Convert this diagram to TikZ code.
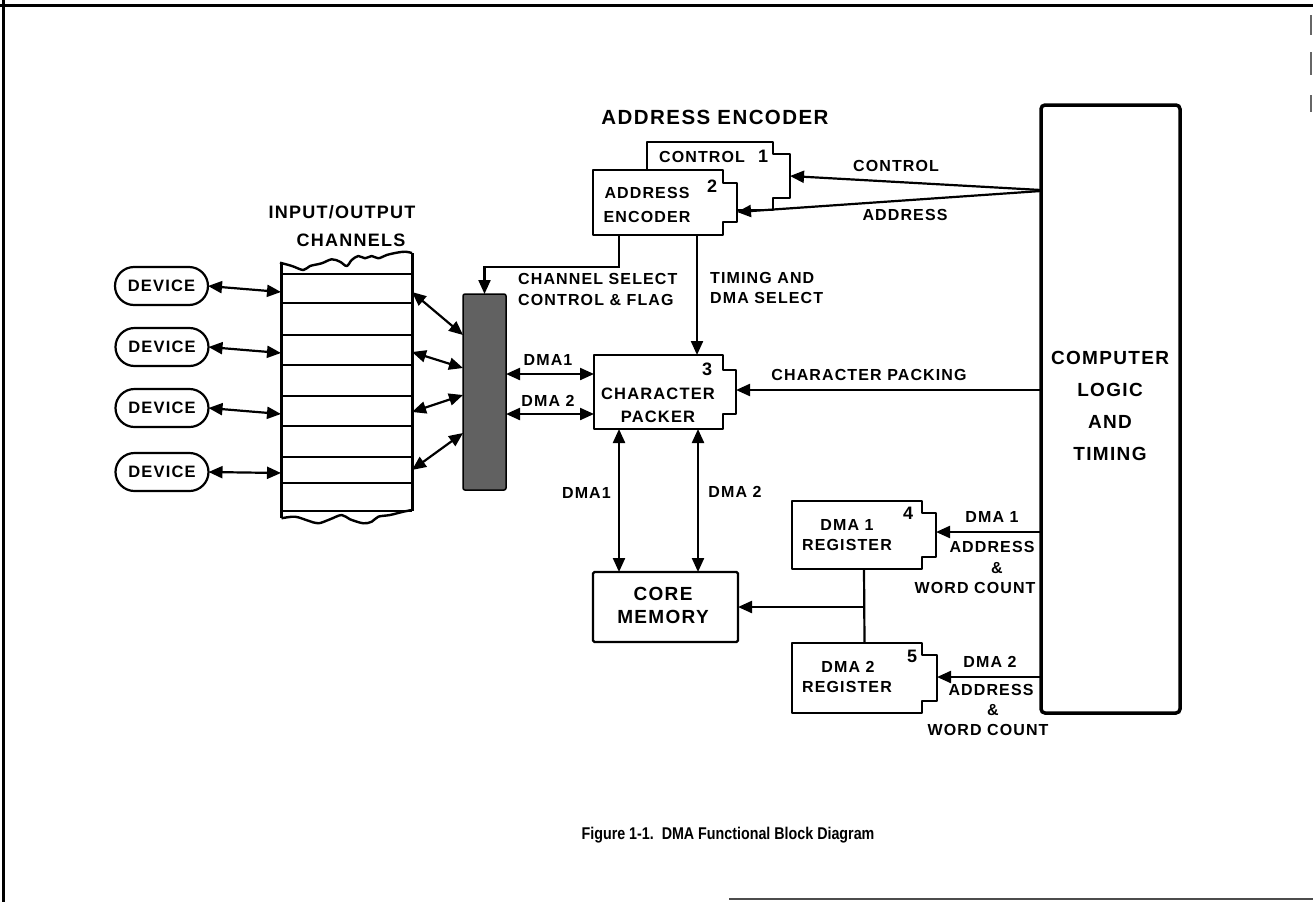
\documentclass[tikz,border=0pt]{standalone}
\usepackage{fontspec}
\setmainfont{Liberation Sans}
\newfontfamily\lblfont{Liberation Sans}[LetterSpace=7]
\newfontfamily\capfont{Liberation Sans}[FakeStretch=0.84]
\usetikzlibrary{arrows.meta}
\newcommand\notchedbox[3]{%
  \draw[boxline] (#1.north west) -- ([xshift=-#2pt]#1.north east)
    -- ([xshift=-#2pt,yshift=-#3pt]#1.north east) -- ([yshift=-#3pt]#1.north east)
    -- ([yshift=#3pt]#1.south east) -- ([xshift=-#2pt,yshift=#3pt]#1.south east)
    -- ([xshift=-#2pt]#1.south east) -- (#1.south west) -- cycle;}
\begin{document}
\begin{tikzpicture}[x=1pt,y=-1pt,
  lbl/.style={font=\lblfont\bfseries\fontsize{16}{18}\selectfont, inner sep=0pt},
  big/.style={font=\lblfont\bfseries\fontsize{19}{21}\selectfont, inner sep=0pt},
  num/.style={font=\bfseries\fontsize{18}{20}\selectfont, inner sep=0pt},
  wire/.style={line width=2.2pt},
  arr/.style={wire, -{Triangle[length=14pt,width=12pt]}},
  dbl/.style={wire, {Triangle[length=14pt,width=12pt]}-{Triangle[length=14pt,width=12pt]}},
  boxline/.style={line width=2.2pt, fill=white, line join=round},
  anchorbox/.style={draw=none, inner sep=0pt, outer sep=0pt},
  plainbox/.style={draw, line width=2.2pt, fill=white, inner sep=0pt, outer sep=0pt, rounded corners=1.5pt},
  devbox/.style={draw, line width=2.2pt, rounded corners=19pt, minimum width=93pt, minimum height=38pt, inner sep=0pt, outer sep=0pt,
     font=\lblfont\bfseries\fontsize{16.5}{18}\selectfont},
  chline/.style={line width=1.3pt},
  chside/.style={line width=3pt}
]
\useasboundingbox (0,0) rectangle (1313,902);
% frame
\draw[line width=3pt] (0,5) -- (1313,5);
\draw[line width=3pt] (3,0) -- (3,902);
\draw[line width=2.5pt, black!70] (729,899) -- (1313,899);
\draw[line width=1.5pt, black!60] (1311,15) -- (1311,35) (1311,52) -- (1311,75) (1311,95) -- (1311,112);

% ---- boxes (anchors)
\node[anchorbox, minimum width=143pt, minimum height=68pt] (ctl) at (718.5,176) {};
\node[anchorbox, minimum width=144pt, minimum height=65pt] (aenc) at (665,202.5) {};
\node[anchorbox, minimum width=142pt, minimum height=74pt] (pack) at (665,392) {};
\node[anchorbox, minimum width=144pt, minimum height=68pt] (reg1) at (864,535) {};
\node[anchorbox, minimum width=145pt, minimum height=70pt] (reg2) at (864.5,678) {};
\notchedbox{ctl}{17}{12}
\notchedbox{aenc}{14}{13}
\notchedbox{pack}{13}{15}
\notchedbox{reg1}{14}{12}
\notchedbox{reg2}{15}{12}
\node[plainbox, minimum width=145pt, minimum height=70pt] (core) at (665.5,607) {};
\node[draw, line width=3.5pt, rounded corners=4pt, inner sep=0pt, outer sep=0pt,
      minimum width=139pt, minimum height=608pt] (comp) at (1110.5,409) {};
\node[draw, line width=1.5pt, fill=black!62, rounded corners=2pt, inner sep=0pt, outer sep=0pt,
      minimum width=43pt, minimum height=196pt] (bar) at (484.5,392) {};

% ---- devices
\node[devbox] (dev1) at (161.5,286) {DEVICE};
\node[devbox] (dev2) at (162,347) {DEVICE};
\node[devbox] (dev3) at (162,408) {DEVICE};
\node[devbox] (dev4) at (162,472) {DEVICE};

% ---- I/O channel stack
\node[anchorbox, minimum width=131pt, minimum height=256pt] (chan) at (346.5,388) {};
\foreach \yy in {274,303,335,365,396,426,457,483,511}
  \draw[chline] (281,\yy) -- (412,\yy);
\draw[chside] (281,263) -- (281,518);
\draw[chside] (412,253) -- (412,511);
\draw[line width=2.4pt, line join=round] plot[smooth, tension=0.55] coordinates {
  (280,262.7) (292,266) (303.3,270) (310,266) (321.7,263.3) (331.7,259.3) (340,261.7)
  (346.7,266) (351.7,260) (358.3,256) (365,258.3) (371.7,256) (378.3,258.3)
  (386.7,255) (396.7,252.7) (405,251.7) (412,253)};
\draw[line width=2.4pt, line join=round] plot[smooth, tension=0.55] coordinates {
  (281.5,518.3) (295,516.7) (308.3,520.7) (318.3,523.3) (330,519.3) (341.7,515)
  (350,519.3) (363.3,523.3) (371.7,521.7) (378.3,516.7) (390,515) (403.3,511.7) (412,510)};
\coordinate (cl1) at (281,292);
\coordinate (cl2) at (281,353);
\coordinate (cl3) at (281,414);
\coordinate (cl4) at (281,473);
\coordinate (cr1) at (412,292);
\coordinate (cr2) at (412,352);
\coordinate (cr3) at (412,412);
\coordinate (cr4) at (412,470);

% ---- connectors
\draw[dbl] (dev1.east) -- (cl1);
\draw[dbl] (dev2.east) -- (cl2);
\draw[dbl] (dev3.east) -- (cl3);
\draw[dbl] (dev4.east) -- (cl4);
\draw[dbl] (cr1) -- (bar.west |- 0,335);
\draw[dbl] (cr2) -- (bar.west |- 0,368);
\draw[dbl] (cr3) -- (bar.west |- 0,395);
\draw[dbl] (cr4) -- (bar.west |- 0,433);

\draw[arr] (comp.west |- 0,190) -- (ctl.east |- 0,176);
\draw[arr] (comp.west |- 0,191) -- (aenc.east |- 0,212);
\draw[arr] ([xshift=26pt]aenc.south west) -- ++(0,32) -| (bar.north);
\draw[arr] ([xshift=104pt]aenc.south west) -- ([xshift=103pt]pack.north west);
\draw[dbl] (bar.east |- 0,374) -- (pack.west |- 0,374);
\draw[dbl] (bar.east |- 0,414) -- (pack.west |- 0,414);
\draw[arr] (comp.west |- 0,390) -- (pack.east |- 0,390);
\draw[dbl] ([xshift=25pt]pack.south west) -- ([xshift=26pt]core.north west);
\draw[dbl] ([xshift=104pt]pack.south west) -- ([xshift=105pt]core.north west);
\draw[wire] (reg1.south) -- (reg2.north);
\draw[arr] (reg1.south |- core.east) -- (core.east);
\draw[arr] (comp.west |- 0,532) -- (reg1.east |- 0,532);
\draw[arr] (comp.west |- 0,677) -- (reg2.east |- 0,677);

% ---- texts
\node[lbl, font=\lblfont\bfseries\fontsize{20.5}{22}\selectfont] (tTitle) at (715,117) {ADDRESS ENCODER};
\node[lbl, font=\lblfont\bfseries\fontsize{18}{20}\selectfont] (tIO1) at (342,212) {INPUT/OUTPUT};
\node[lbl, font=\lblfont\bfseries\fontsize{18}{20}\selectfont] (tIO2) at (351,240) {CHANNELS};
\node[lbl] (tCtlBox) at (702,157) {CONTROL};
\node[num] (n1) at (763,156) {1};
\node[lbl] (tAe1) at (647,193) {ADDRESS};
\node[lbl] (tAe2) at (647,217) {ENCODER};
\node[num] (n2) at (712,186) {2};
\node[lbl] (tCtl) at (896,166) {CONTROL};
\node[lbl] (tAddr) at (905,215) {ADDRESS};
\node[lbl, anchor=west] (tCs1) at (518,279) {CHANNEL SELECT};
\node[lbl, anchor=west] (tCs2) at (518,300) {CONTROL \& FLAG};
\node[lbl, anchor=west] (tTm1) at (710,278) {TIMING AND};
\node[lbl, anchor=west] (tTm2) at (710,298) {DMA SELECT};
\node[lbl] (tHd1) at (548,360) {DMA1};
\node[lbl] (tHd2) at (548,401) {DMA 2};
\node[num] (n3) at (707,369) {3};
\node[lbl, font=\lblfont\bfseries\fontsize{16.5}{18}\selectfont] (tCp1) at (658,394) {CHARACTER};
\node[lbl, font=\lblfont\bfseries\fontsize{16.5}{18}\selectfont] (tCp2) at (658,417) {PACKER};
\node[lbl] (tCpk) at (869,375) {CHARACTER PACKING};
\node[big] (tC1) at (1110,358) {COMPUTER};
\node[big] (tC2) at (1110,390) {LOGIC};
\node[big] (tC3) at (1110,422) {AND};
\node[big] (tC4) at (1110,454) {TIMING};
\node[lbl, anchor=east] (tVd1) at (611,493) {DMA1};
\node[lbl] (tVd2) at (735,492) {DMA 2};
\node[big] (tCm1) at (663,594) {CORE};
\node[big] (tCm2) at (663,617) {MEMORY};
\node[lbl] (tR1a) at (847,525) {DMA 1};
\node[lbl] (tR1b) at (847,545) {REGISTER};
\node[num] (n4) at (908,513) {4};
\node[lbl] (tR2a) at (848,667) {DMA 2};
\node[lbl] (tR2b) at (847,687) {REGISTER};
\node[num] (n5) at (912,656) {5};
\node[lbl] (tA1a) at (992,517) {DMA 1};
\node[lbl] (tA1b) at (992,547) {ADDRESS};
\node[lbl] (tA1c) at (997,568) {\&};
\node[lbl] (tA1d) at (975,588) {WORD COUNT};
\node[lbl] (tA2a) at (990,662) {DMA 2};
\node[lbl] (tA2b) at (991,690) {ADDRESS};
\node[lbl] (tA2c) at (993,710) {\&};
\node[lbl] (tA2d) at (988,730) {WORD COUNT};
\node[inner sep=0pt, font=\capfont\bfseries\fontsize{17}{19}\selectfont] (cap) at (728,835)
  {Figure 1-1.\ \ DMA Functional Block Diagram};
\end{tikzpicture}
\end{document}
